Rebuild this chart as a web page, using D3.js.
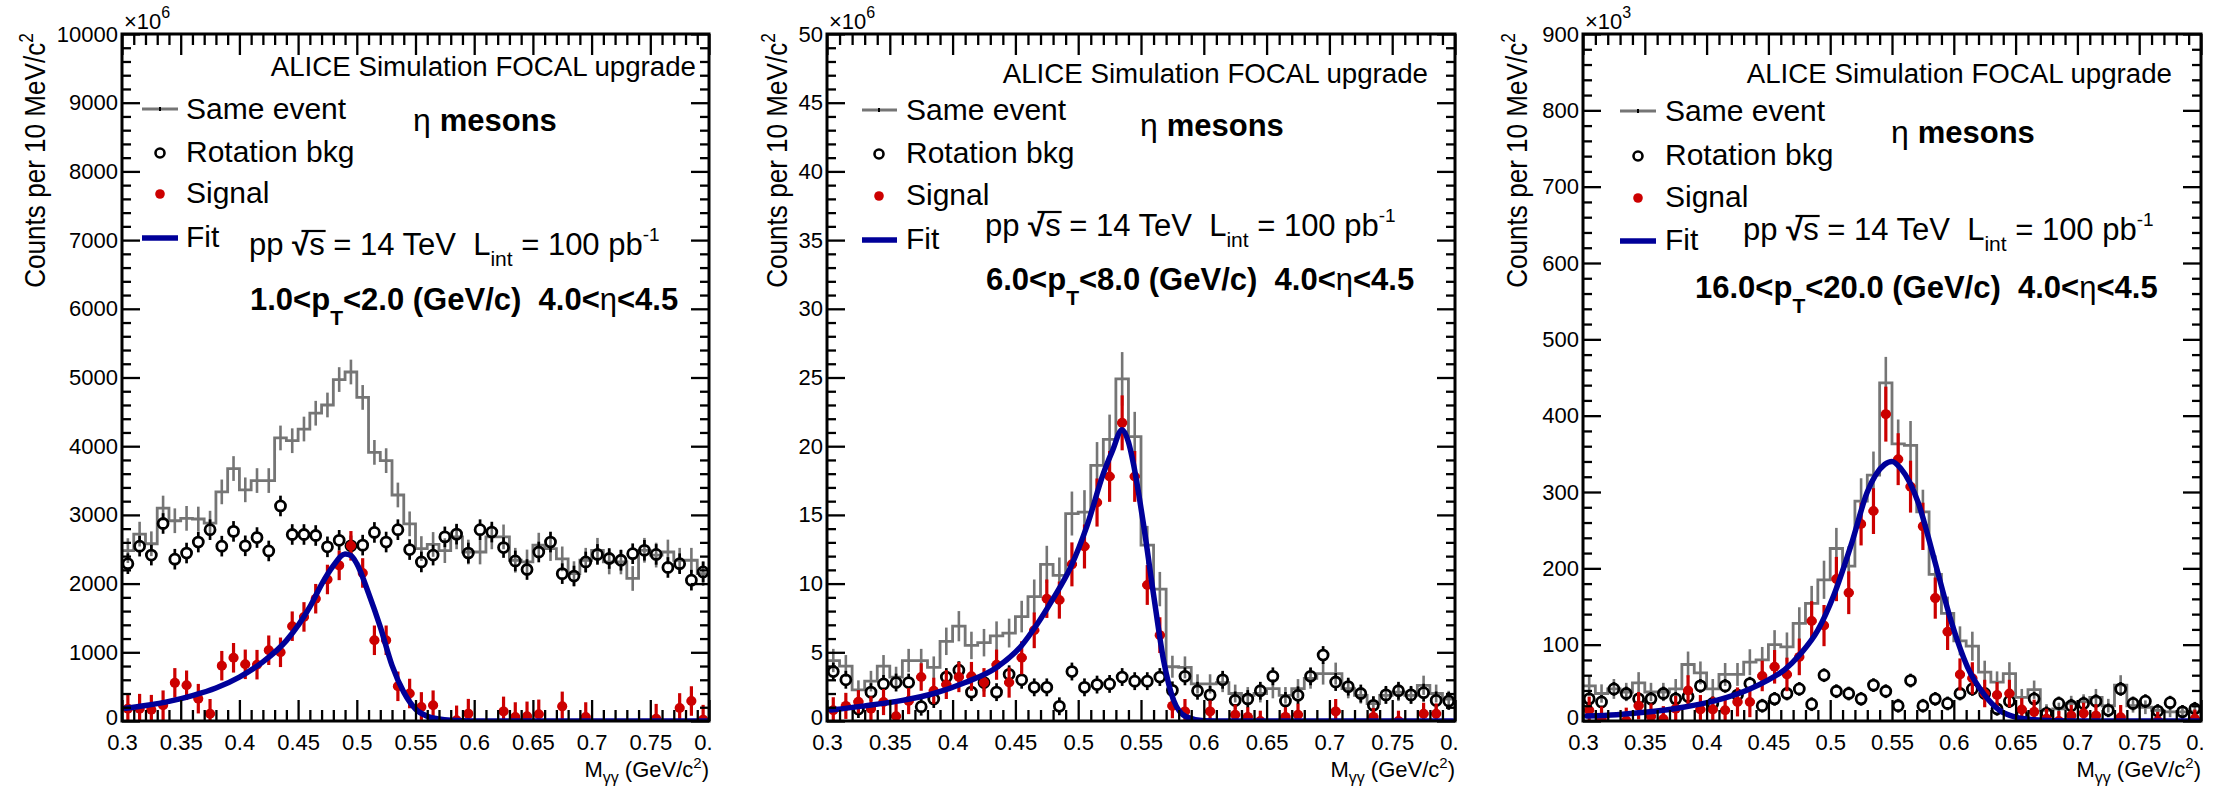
<!DOCTYPE html>
<html><head><meta charset="utf-8">
<script src="https://cdn.jsdelivr.net/npm/d3@7"></script>
<style>
body{margin:0;background:#fff}
svg{display:block}
text{font-family:"Liberation Sans",Arial,Helvetica,sans-serif;white-space:pre}
</style></head>
<body><svg id="c" width="2219" height="786"></svg>
<script>
// ---------------- DATA ----------------
const binCenters = [0.305,0.315,0.325,0.335,0.345,0.355,0.365,0.375,0.385,0.395,
  0.405,0.415,0.425,0.435,0.445,0.455,0.465,0.475,0.485,0.495,
  0.505,0.515,0.525,0.535,0.545,0.555,0.565,0.575,0.585,0.595,
  0.605,0.615,0.625,0.635,0.645,0.655,0.665,0.675,0.685,0.695,
  0.705,0.715,0.725,0.735,0.745,0.755,0.765,0.775,0.785,0.795];
const binWidth = 0.01;
const xTickValues = [0.3,0.35,0.4,0.45,0.5,0.55,0.6,0.65,0.7,0.75,0.8];
const xTickLabels = ["0.3","0.35","0.4","0.45","0.5","0.55","0.6","0.65","0.7","0.75","0.8"];

// Panel 1 : 1.0<pT<2.0
const yTicks1 = [0,1000,2000,3000,4000,5000,6000,7000,8000,9000,10000];
const yLabels1 = ["0","1000","2000","3000","4000","5000","6000","7000","8000","9000","10000"];
const sameEvent1 = [2480,2720,2580,3100,2915,2950,2940,2880,3335,3675,
  3365,3500,3500,4120,4080,4250,4480,4600,4970,5080,
  4710,3910,3790,3290,2870,2510,2570,2480,2680,2460,
  2460,2680,2680,2340,2315,2560,2510,2360,2145,2340,
  2485,2315,2315,2075,2485,2415,2460,2340,2340,2145];
const rotBkg1 = [2290,2545,2415,2875,2355,2445,2605,2785,2545,2760,
  2550,2670,2475,3130,2715,2715,2700,2535,2630,2550,
  2560,2745,2605,2785,2495,2315,2415,2680,2720,2445,
  2785,2750,2525,2330,2205,2460,2605,2145,2110,2315,
  2425,2365,2340,2435,2485,2425,2235,2290,2050,2170];
const signal1 = [180,180,165,230,555,520,325,105,805,920,
  825,820,1030,1000,1380,1515,1780,2060,2265,2550,
  2155,1175,1175,505,400,205,230,null,10,107,
  null,null,140,58,68,97,null,213,null,58,
  null,null,null,null,null,34,null,190,291,20];
const sameErr1 = 180, bkgErr1 = 150, sigErr1 = 215;
const fitMass1 = [0.303,0.32,0.34,0.36,0.38,0.40,0.42,0.44,0.46,0.47,0.48,0.49,0.495,0.50,0.51,0.52,0.53,0.54,0.55,0.56,0.57,0.58,0.60,0.62,0.798];
const fitVal1  = [185,225,285,370,480,640,860,1170,1660,1990,2260,2430,2410,2290,1860,1370,810,420,175,70,28,10,1,0,0];

// Panel 2 : 6.0<pT<8.0
const yTicks2 = [0,5,10,15,20,25,30,35,40,45,50];
const yLabels2 = ["0","5","10","15","20","25","30","35","40","45","50"];
const sameEvent2 = [4.4,4.0,2.26,2.9,4.0,3.2,4.4,4.4,3.9,5.8,
  6.9,5.5,5.7,6.2,6.4,7.6,9.05,11.4,10.6,15.1,
  15.2,18.6,20.5,24.9,20.7,12.8,9.6,3.95,3.9,2.7,
  2.7,2.8,2.0,1.87,2.0,2.35,1.87,2.35,3.1,3.45,
  3.45,2.35,1.87,1.26,1.87,2.1,1.87,2.6,2.0,1.6];
const rotBkg2 = [3.6,3.0,0.87,2.1,2.7,2.8,2.8,1.04,1.6,3.2,
  3.7,2.1,2.8,2.1,3.4,3.0,2.45,2.45,1.07,3.6,
  2.45,2.65,2.7,3.2,2.9,2.9,3.2,2.23,3.25,2.2,
  1.9,3.0,1.5,1.6,2.2,3.25,1.46,1.87,3.25,4.8,
  2.84,2.5,2.0,1.14,1.9,2.2,1.9,2.06,1.5,1.46];
const signal2 = [0.78,1.1,1.4,0.9,1.38,0.34,1.45,3.2,2.2,2.65,
  3.2,3.25,2.8,4.1,2.8,4.6,6.6,8.9,8.8,11.4,
  12.7,15.9,17.8,21.7,17.8,9.9,6.25,1.1,0.7,null,
  0.7,null,0.45,0.3,0.0,null,0.3,0.46,null,null,
  0.7,null,null,0.3,null,0.0,null,0.53,0.53,null];
const sameErr2 = [0.85,0.8,0.7,0.75,0.8,0.75,0.85,0.85,0.8,1.0,
  1.1,1.0,1.0,1.05,1.05,1.15,1.25,1.35,1.3,1.6,
  1.6,1.7,1.8,1.95,1.8,1.4,1.25,0.8,0.8,0.7,
  0.7,0.7,0.65,0.6,0.65,0.7,0.6,0.7,0.75,0.8,
  0.8,0.7,0.6,0.55,0.6,0.65,0.6,0.7,0.65,0.6];
const sigErr2 = [0.95,0.95,0.85,0.9,0.95,0.9,0.95,1.0,0.95,1.05,
  1.1,1.05,1.05,1.1,1.1,1.2,1.3,1.4,1.35,1.6,
  1.6,1.75,1.85,2.0,1.85,1.45,1.3,0.9,0.9,0.8,
  0.8,0.8,0.75,0.7,0.75,0.8,0.7,0.8,0.85,0.9,
  0.9,0.8,0.7,0.65,0.7,0.75,0.7,0.8,0.75,0.7];
const bkgErr2 = 0.65;
const fitMass2 = [0.303,0.33,0.36,0.385,0.41,0.435,0.455,0.467,0.48,0.494,0.507,0.52,0.527,0.535,0.54,0.544,0.552,0.56,0.568,0.576,0.586,0.60,0.62,0.798];
const fitVal2  = [0.8,1.1,1.5,2.0,2.8,3.9,5.5,7.0,8.9,11.2,14.2,18.0,19.6,21.2,20.3,18.7,14.3,9.2,4.4,1.5,0.3,0.02,0,0];

// Panel 3 : 16.0<pT<20.0
const yTicks3 = [0,100,200,300,400,500,600,700,800,900];
const yLabels3 = ["0","100","200","300","400","500","600","700","800","900"];
const sameEvent3 = [46,36,42,38,50,38,38,42,74,63,
  42,61,61,77,80,100,97,128,154,185,
  226,203,288,322,443,363,361,274,192,141,
  105,98,64,51,62,31,41,14,16,23,
  25,31,20,47,20,18,14,12,12,12];
const rotBkg3 = [29,25,42,36,29,29,36,29,32,46,
  23,46,34,49,20,29,36,42,22,60,
  39,36,29,47,39,20,53,20,29,23,
  36,42,36,16,26,8,29,10,23,20,
  23,26,14,42,23,26,13,24,12,16];
const signal3 = [14,2,null,0.5,20,6,2.5,16,40,15,
  15,14,25,25,59,71,61,84,131,125,
  186,168,258,275,402,343,307,255,161,117,
  61,56,36,34,36,15,12,3,0,7,
  10,7,null,5,null,null,0,null,null,3];
const sameErr3 = [13,12,13,12,14,12,12,13,17,15,
  13,15,15,17,17,19,19,21,23,25,
  27,26,30,31,34,32,32,29,25,22,
  19,19,15,14,15,11,12,8,8,10,
  10,11,9,13,9,9,8,7,7,7];
const sigErr3 = [18,17,17,17,18,17,17,17,20,19,
  17,19,19,20,20,22,22,24,26,27,
  29,28,28,30,36,34,34,31,27,24,
  21,21,18,17,18,15,16,13,13,14,
  14,15,13,16,13,13,12,12,12,12];
const bkgErr3 = 9;
const fitMass3 = [0.303,0.327,0.354,0.381,0.408,0.435,0.45,0.463,0.476,0.49,0.503,0.517,0.53,0.544,0.55,0.557,0.571,0.584,0.598,0.611,0.625,0.637,0.65,0.665,0.68,0.70,0.798];
const fitVal3  = [6.6,8.3,12,18,27,42,54,67,88,119,165,231,300,336,340,331,287,213,130,71,34,14,5,1.5,0.3,0,0];

const ptRanges = [["1.0","2.0"],["6.0","8.0"],["16.0","20.0"]];
const exponents = ["6","6","3"];
const legendLabels = ["Same event","Rotation bkg","Signal","Fit"];

// ---------------- STYLE / LAYOUT ----------------
const FONT = '"Liberation Sans",Arial,Helvetica,sans-serif';
const GRAY = "#757575", RED = "#cc0000", BLUE = "#000099";
const Y_TOP = 34, Y_BOT = 721;

const panels = [
 {x0:122, x1:709, ymax:10000, yTicks:yTicks1, yLabels:yLabels1, yMinor:200,
  same:sameEvent1, sameErr:sameErr1, bkg:rotBkg1, bkgErr:bkgErr1, sig:signal1, sigErr:sigErr1,
  fitM:fitMass1, fitV:fitVal1,
  lay:{expoX:124, aliceX:696, aliceY:76, legX:186, legY:[119,162,203,247], markX:160, lineX:[142,178],
       etaX:413, etaY:131, ppX:249, ppY:255, ptX:250, ptY:310, yTitleX:45, clipR:712}},
 {x0:827, x1:1455, ymax:50, yTicks:yTicks2, yLabels:yLabels2, yMinor:1,
  same:sameEvent2, sameErr:sameErr2, bkg:rotBkg2, bkgErr:bkgErr2, sig:signal2, sigErr:sigErr2,
  fitM:fitMass2, fitV:fitVal2,
  lay:{expoX:829, aliceX:1428, aliceY:83, legX:906, legY:[120,163,205,249], markX:879, lineX:[862,897],
       etaX:1140, etaY:136, ppX:985, ppY:236, ptX:986, ptY:290, yTitleX:787, clipR:1458}},
 {x0:1583, x1:2201, ymax:900, yTicks:yTicks3, yLabels:yLabels3, yMinor:20,
  same:sameEvent3, sameErr:sameErr3, bkg:rotBkg3, bkgErr:bkgErr3, sig:signal3, sigErr:sigErr3,
  fitM:fitMass3, fitV:fitVal3,
  lay:{expoX:1585, aliceX:2172, aliceY:83, legX:1665, legY:[121,165,207,250], markX:1638, lineX:[1620,1656],
       etaX:1891, etaY:143, ppX:1743, ppY:240, ptX:1695, ptY:298, yTitleX:1527, clipR:2203}}
];

const svg = d3.select("#c");
const defs = svg.append("defs");
const errAt = (e,j) => Array.isArray(e) ? e[j] : e;

function richText(g, x, y, parts, opt) {
  const t = g.append("text").attr("x", x).attr("y", y)
    .attr("font-size", opt.size).attr("font-weight", opt.weight || "normal")
    .attr("text-anchor", opt.anchor || "start").attr("fill", "#000");
  let cur = 0;
  parts.forEach(p => {
    const sp = t.append("tspan").text(p.t);
    const shift = p.shift || 0;
    if (shift !== cur) { sp.attr("dy", shift - cur); cur = shift; }
    if (p.size) sp.attr("font-size", p.size);
    if (p.weight) sp.attr("font-weight", p.weight);
  });
  return t;
}

function styleAxis(sel, fs) {
  sel.select(".domain").remove();
  sel.selectAll("line").attr("stroke", "#000").attr("stroke-width", 2.3);
  sel.selectAll("text").attr("font-family", FONT).attr("font-size", fs).attr("fill", "#000");
}

panels.forEach((p, i) => {
  const L = p.lay;
  defs.append("clipPath").attr("id", "pc" + i).append("rect")
    .attr("x", p.x0 - 140).attr("y", 0).attr("width", L.clipR - (p.x0 - 140)).attr("height", 786);
  defs.append("clipPath").attr("id", "fc" + i).append("rect")
    .attr("x", p.x0).attr("y", Y_TOP).attr("width", p.x1 - p.x0).attr("height", Y_BOT - Y_TOP);

  const g = svg.append("g").attr("clip-path", `url(#pc${i})`);
  const x = d3.scaleLinear().domain([0.3, 0.8]).range([p.x0, p.x1]);
  const y = d3.scaleLinear().domain([0, p.ymax]).range([Y_BOT, Y_TOP]);

  // ---- data ----
  const dg = g.append("g").attr("clip-path", `url(#fc${i})`);
  // same event histogram
  const steps = binCenters.map((c, j) => [c - binWidth / 2, p.same[j]]);
  steps.push([0.8, p.same[p.same.length - 1]]);
  dg.append("path").attr("d", d3.line().x(d => x(d[0])).y(d => y(d[1])).curve(d3.curveStepAfter)(steps))
    .attr("fill", "none").attr("stroke", GRAY).attr("stroke-width", 2.8);
  dg.append("g").selectAll("line").data(binCenters).join("line")
    .attr("x1", d => x(d)).attr("x2", d => x(d))
    .attr("y1", (d, j) => y(p.same[j] - errAt(p.sameErr, j)))
    .attr("y2", (d, j) => y(p.same[j] + errAt(p.sameErr, j)))
    .attr("stroke", GRAY).attr("stroke-width", 2.6);

  // rotation background
  const R = 5;
  const bg = dg.append("g");
  binCenters.forEach((c, j) => {
    const v = p.bkg[j]; if (v == null) return;
    const cx = x(c), cy = y(v), e = errAt(p.bkgErr, j);
    const top = y(v + e), bot = y(v - e);
    if (cy - R > top) bg.append("line").attr("x1", cx).attr("x2", cx).attr("y1", top).attr("y2", cy - R);
    if (bot > cy + R) bg.append("line").attr("x1", cx).attr("x2", cx).attr("y1", cy + R).attr("y2", bot);
    bg.append("circle").attr("cx", cx).attr("cy", cy).attr("r", R);
  });
  bg.selectAll("line").attr("stroke", "#000").attr("stroke-width", 2.7);
  bg.selectAll("circle").attr("fill", "none").attr("stroke", "#000").attr("stroke-width", 2.8);

  // signal
  const sg = dg.append("g");
  binCenters.forEach((c, j) => {
    const v = p.sig[j]; if (v == null) return;
    const e = errAt(p.sigErr, j);
    sg.append("line").attr("x1", x(c)).attr("x2", x(c)).attr("y1", y(v - e)).attr("y2", y(v + e));
    sg.append("line").attr("x1", x(c - binWidth * 0.4)).attr("x2", x(c + binWidth * 0.4)).attr("y1", y(v)).attr("y2", y(v));
    sg.append("circle").attr("cx", x(c)).attr("cy", y(v)).attr("r", 5);
  });
  sg.selectAll("line").attr("stroke", RED).attr("stroke-width", 3.2);
  sg.selectAll("circle").attr("fill", RED);

  // fit
  const fitPts = p.fitM.map((m, j) => [m, p.fitV[j]]);
  dg.append("path").attr("d", d3.line().x(d => x(d[0])).y(d => y(d[1])).curve(d3.curveMonotoneX)(fitPts))
    .attr("fill", "none").attr("stroke", BLUE).attr("stroke-width", 5.5).attr("stroke-linecap", "round");

  // ---- axes ----
  const xMinor = d3.range(30, 81).map(d => d / 100).filter(d => !xTickValues.some(m => Math.abs(m - d) < 1e-9));
  const yMinor = d3.range(0, p.ymax + 1e-9, p.yMinor).filter(d => !p.yTicks.some(m => Math.abs(m - d) < 1e-9));
  g.append("g").attr("transform", `translate(0,${Y_BOT})`)
    .call(d3.axisBottom(x).tickValues(xTickValues).tickSize(-21).tickPadding(13).tickFormat((d, k) => xTickLabels[k]))
    .call(s => styleAxis(s, 22));
  g.append("g").attr("transform", `translate(0,${Y_BOT})`)
    .call(d3.axisBottom(x).tickValues(xMinor).tickSize(-11).tickFormat(""))
    .call(s => styleAxis(s, 22));
  g.append("g").attr("transform", `translate(0,${Y_TOP})`)
    .call(d3.axisTop(x).tickValues(xTickValues).tickSize(-21).tickFormat(""))
    .call(s => styleAxis(s, 22));
  g.append("g").attr("transform", `translate(0,${Y_TOP})`)
    .call(d3.axisTop(x).tickValues(xMinor).tickSize(-11).tickFormat(""))
    .call(s => styleAxis(s, 22));
  g.append("g").attr("transform", `translate(${p.x0},0)`)
    .call(d3.axisLeft(y).tickValues(p.yTicks).tickSize(-18).tickPadding(4).tickFormat((d, k) => p.yLabels[k]))
    .call(s => styleAxis(s, 22))
    .call(s => s.selectAll(".tick text").filter(d => d === 0).attr("dy", "0.18em"));
  g.append("g").attr("transform", `translate(${p.x0},0)`)
    .call(d3.axisLeft(y).tickValues(yMinor).tickSize(-9).tickFormat(""))
    .call(s => styleAxis(s, 22));
  g.append("g").attr("transform", `translate(${p.x1},0)`)
    .call(d3.axisRight(y).tickValues(p.yTicks).tickSize(-18).tickFormat(""))
    .call(s => styleAxis(s, 22));
  g.append("g").attr("transform", `translate(${p.x1},0)`)
    .call(d3.axisRight(y).tickValues(yMinor).tickSize(-9).tickFormat(""))
    .call(s => styleAxis(s, 22));

  g.append("rect").attr("x", p.x0).attr("y", Y_TOP).attr("width", p.x1 - p.x0).attr("height", Y_BOT - Y_TOP)
    .attr("fill", "none").attr("stroke", "#000").attr("stroke-width", 3);

  // exponent
  richText(g, L.expoX, 29, [{t:"×10"}, {t:exponents[i], size:16, shift:-11}], {size:22});

  // axis titles
  const yt = g.append("g").attr("transform", `translate(${L.yTitleX},${Y_TOP - 1}) rotate(-90) scale(0.87,1)`);
  richText(yt, 0, 0, [{t:"Counts per 10 MeV/c"}, {t:"2", size:20, shift:-12}], {size:30, anchor:"end"});
  richText(g, p.x1, 777, [{t:"M"}, {t:"γγ", size:16, shift:6}, {t:" (GeV/c"}, {t:"2", size:15, shift:-9}, {t:")"}], {size:22, anchor:"end"});

  // ALICE label
  richText(g, L.aliceX, L.aliceY, [{t:"ALICE Simulation FOCAL upgrade"}], {size:27.7, anchor:"end"});

  // legend
  const lg = g.append("g");
  lg.append("line").attr("x1", L.lineX[0]).attr("x2", L.lineX[1]).attr("y1", L.legY[0] - 10).attr("y2", L.legY[0] - 10)
    .attr("stroke", GRAY).attr("stroke-width", 3);
  lg.append("line").attr("x1", L.markX).attr("x2", L.markX).attr("y1", L.legY[0] - 12).attr("y2", L.legY[0] - 8)
    .attr("stroke", "#000").attr("stroke-width", 2);
  lg.append("circle").attr("cx", L.markX).attr("cy", L.legY[1] - 9).attr("r", 4.5)
    .attr("fill", "none").attr("stroke", "#000").attr("stroke-width", 2.6);
  lg.append("circle").attr("cx", L.markX).attr("cy", L.legY[2] - 9).attr("r", 4.8).attr("fill", RED);
  lg.append("line").attr("x1", L.lineX[0]).attr("x2", L.lineX[1]).attr("y1", L.legY[3] - 9).attr("y2", L.legY[3] - 9)
    .attr("stroke", BLUE).attr("stroke-width", 5.5);
  legendLabels.forEach((lab, k) => richText(lg, L.legX, L.legY[k], [{t:lab}], {size:30}));

  // eta mesons
  richText(g, L.etaX, L.etaY, [{t:"η ", weight:"normal", size:32}, {t:"mesons", weight:"bold"}], {size:31});

  // pp sqrt(s) line
  const pp = richText(g, L.ppX, L.ppY,
    [{t:"pp "}, {t:"√", weight:"bold"}, {t:"s"}, {t:" = 14 TeV  L"}, {t:"int", size:21, shift:11},
     {t:" = 100 pb"}, {t:"-1", size:19, shift:-14}], {size:31});
  try {
    const ex = pp.node().getExtentOfChar(4);
    const ex0 = pp.node().getExtentOfChar(3);
    g.append("line").attr("x1", ex0.x + ex0.width * 0.55).attr("x2", ex.x + ex.width + 1)
      .attr("y1", L.ppY - 24).attr("y2", L.ppY - 24).attr("stroke", "#000").attr("stroke-width", 2.2);
  } catch (e) {}

  // pT line
  richText(g, L.ptX, L.ptY,
    [{t:ptRanges[i][0] + "<p"}, {t:"T", size:21, shift:15}, {t:"<" + ptRanges[i][1] + " (GeV/c)  4.0<"},
     {t:"η", weight:"normal"}, {t:"<4.5"}], {size:31, weight:"bold"});
});
</script>
</body></html>
